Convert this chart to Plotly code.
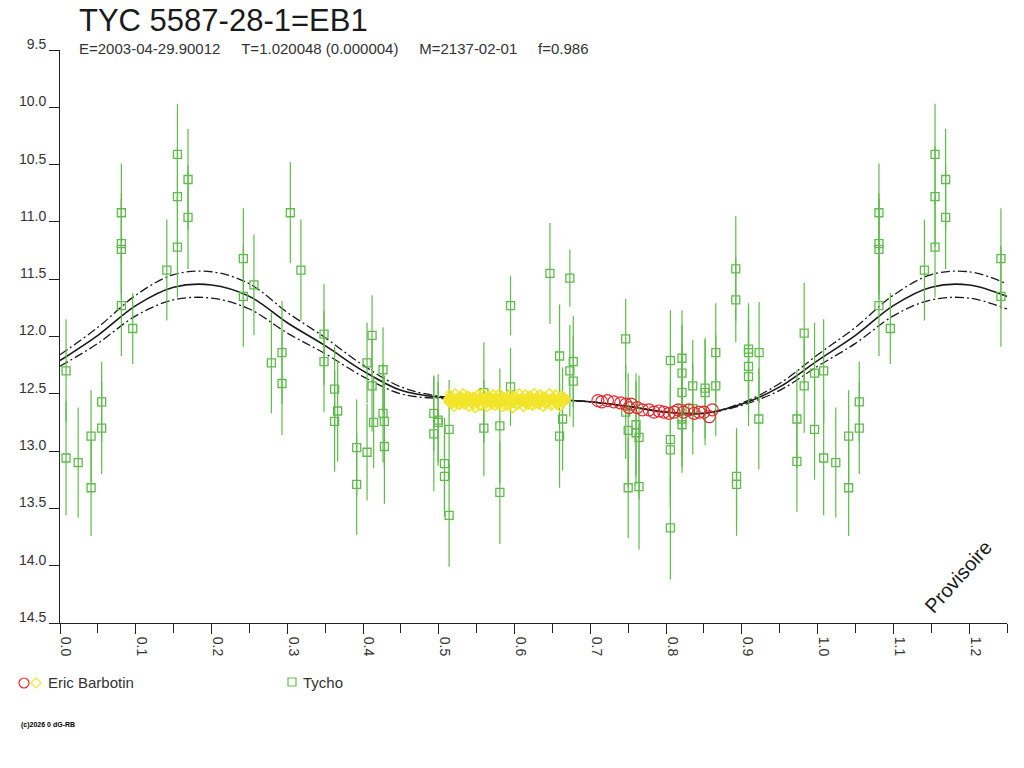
import plotly.graph_objects as go

# Tycho photometry (phase, magnitude, error)
tycho_phase = [0.008, 0.008, 0.024, 0.041, 0.041, 0.055, 0.055, 0.081, 0.081, 0.081, 0.081, 0.096,
               0.141, 0.155, 0.155, 0.155, 0.169, 0.169, 0.242, 0.242, 0.256, 0.279, 0.293, 0.293,
               0.304, 0.318, 0.3485, 0.3485, 0.3625, 0.3625, 0.3665, 0.3916, 0.3916, 0.4053, 0.4053,
               0.4119, 0.4119, 0.414, 0.4264, 0.4264, 0.4282, 0.4282, 0.4934, 0.4934, 0.4991, 0.4991,
               0.5075, 0.5075, 0.5136, 0.5136, 0.5595, 0.5595, 0.5806, 0.5806, 0.5947, 0.5947, 0.6467,
               0.673, 0.6594, 0.6594, 0.6634, 0.673, 0.6775, 0.6775, 0.7467, 0.7467, 0.750, 0.750,
               0.7603, 0.7603, 0.7643, 0.7643, 0.8057, 0.8057, 0.8057, 0.8057, 0.821, 0.821, 0.821,
               0.821, 0.821, 0.821, 0.8352, 0.8352, 0.8515, 0.8515, 0.8656, 0.8656, 0.892, 0.892,
               0.893, 0.893, 0.9088, 0.9088, 0.9088, 0.9088, 0.9228, 0.9224, 0.9727, 0.9727, 0.9823,
               0.9823, 0.996, 0.996]
tycho_mag = [12.30, 13.06, 13.10, 12.87, 13.32, 12.57, 12.80, 10.92, 11.19, 11.24, 11.73, 11.93,
             11.42, 10.41, 10.78, 11.22, 10.63, 10.96, 11.32, 11.65, 11.55, 12.23, 12.14, 12.41,
             10.92, 11.42, 11.98, 12.22, 12.46, 12.74, 12.65, 12.97, 13.29, 12.23, 13.01,
             11.99, 12.43, 12.75, 12.29, 12.67, 12.74, 12.96, 12.67, 12.85, 12.73, 12.75,
             13.11, 13.22, 12.81, 13.56, 12.49, 12.80, 12.78, 13.36, 11.73, 12.44, 11.45,
             11.49, 12.17, 12.87, 12.72, 12.30, 12.22, 12.39, 12.02, 12.66, 12.82, 13.32,
             12.77, 12.84, 12.88, 13.31, 12.21, 12.90, 12.99, 13.67, 12.19, 12.32, 12.49,
             12.63, 12.72, 12.77, 12.43, 12.63, 12.45, 12.49, 12.14, 12.43, 11.41, 11.68,
             13.22, 13.29, 12.11, 12.14, 12.26, 12.35, 12.14, 12.72, 12.72, 13.09, 11.97,
             12.43, 12.32, 12.81]
tycho_err = [0.45, 0.50, 0.48, 0.40, 0.42, 0.35, 0.40, 0.43, 0.44, 0.44, 0.44, 0.31,
             0.44, 0.44, 0.44, 0.44, 0.44, 0.45, 0.44, 0.44, 0.44, 0.44, 0.45, 0.45,
             0.44, 0.44, 0.44, 0.44, 0.37, 0.44, 0.44, 0.42, 0.44, 0.35, 0.42,
             0.35, 0.40, 0.40, 0.37, 0.43, 0.40, 0.50, 0.33, 0.50, 0.40, 0.35,
             0.40, 0.35, 0.43, 0.45, 0.44, 0.42, 0.50, 0.45, 0.26, 0.34, 0.44,
             0.25, 0.45, 0.45, 0.45, 0.40, 0.40, 0.40, 0.35, 0.41, 0.50, 0.44,
             0.45, 0.45, 0.54, 0.55, 0.44, 0.50, 0.50, 0.45, 0.42, 0.42, 0.42,
             0.42, 0.42, 0.42, 0.40, 0.40, 0.44, 0.46, 0.43, 0.44, 0.46, 0.37,
             0.42, 0.45, 0.40, 0.40, 0.40, 0.43, 0.44, 0.44, 0.43, 0.44, 0.44,
             0.41, 0.44, 0.44]

# Eric Barbotin, yellow diamonds (three readings per phase)
yellow_phase = [0.512, 0.514, 0.516, 0.518, 0.520, 0.522, 0.524, 0.526, 0.528, 0.530,
                0.532, 0.534, 0.536, 0.538, 0.540, 0.542, 0.544, 0.546, 0.548, 0.550,
                0.552, 0.554, 0.556, 0.558, 0.560, 0.562, 0.564, 0.566, 0.568, 0.570,
                0.572, 0.574, 0.576, 0.578, 0.580, 0.582, 0.584, 0.586, 0.588, 0.590,
                0.592, 0.594, 0.596, 0.598, 0.600, 0.602, 0.604, 0.606, 0.608, 0.610,
                0.612, 0.614, 0.616, 0.618, 0.620, 0.622, 0.624, 0.626, 0.628, 0.630,
                0.632, 0.634, 0.636, 0.638, 0.640, 0.642, 0.644, 0.646, 0.648, 0.650,
                0.652, 0.654, 0.656, 0.658, 0.660, 0.662, 0.664, 0.666, 0.668]
yellow_mag_a = [12.55, 12.50, 12.59, 12.53, 12.62, 12.49, 12.56, 12.60, 12.52, 12.58,
                12.49, 12.60, 12.55, 12.51, 12.62, 12.53, 12.58, 12.52, 12.63, 12.56,
                12.50, 12.61, 12.55, 12.49, 12.59, 12.53, 12.62, 12.51, 12.56, 12.58,
                12.50, 12.61, 12.55, 12.60, 12.49, 12.56, 12.62, 12.52, 12.58, 12.53,
                12.61, 12.50, 12.56, 12.63, 12.52, 12.60, 12.55, 12.49, 12.58, 12.53,
                12.62, 12.50, 12.56, 12.60, 12.51, 12.55, 12.61, 12.49, 12.58, 12.53,
                12.60, 12.50, 12.56, 12.62, 12.52, 12.58, 12.55, 12.49, 12.61, 12.53,
                12.56, 12.50, 12.60, 12.55, 12.62, 12.51, 12.58, 12.53, 12.56]
yellow_mag_b = [12.57, 12.54, 12.52, 12.59, 12.55, 12.58, 12.53, 12.56, 12.60, 12.52,
                12.56, 12.54, 12.59, 12.57, 12.52, 12.58, 12.55, 12.60, 12.53, 12.54,
                12.58, 12.55, 12.61, 12.53, 12.56, 12.59, 12.52, 12.57, 12.54, 12.60,
                12.55, 12.53, 12.58, 12.56, 12.59, 12.52, 12.54, 12.57, 12.61, 12.55,
                12.53, 12.57, 12.59, 12.54, 12.56, 12.52, 12.60, 12.55, 12.58, 12.53,
                12.56, 12.59, 12.54, 12.52, 12.58, 12.60, 12.53, 12.56, 12.55, 12.59,
                12.54, 12.57, 12.52, 12.55, 12.59, 12.53, 12.58, 12.56, 12.54, 12.60,
                12.53, 12.57, 12.55, 12.59, 12.52, 12.56, 12.58, 12.53, 12.55]
yellow_mag_c = [12.54, 12.57, 12.55, 12.53, 12.56, 12.55, 12.58, 12.54, 12.55, 12.56,
                12.54, 12.57, 12.53, 12.55, 12.56, 12.55, 12.53, 12.56, 12.55, 12.58,
                12.56, 12.53, 12.54, 12.57, 12.55, 12.56, 12.54, 12.55, 12.58, 12.53,
                12.57, 12.55, 12.54, 12.56, 12.55, 12.57, 12.56, 12.55, 12.54, 12.57,
                12.56, 12.55, 12.53, 12.57, 12.58, 12.55, 12.54, 12.56, 12.55, 12.57,
                12.54, 12.56, 12.58, 12.55, 12.56, 12.54, 12.55, 12.57, 12.53, 12.56,
                12.55, 12.57, 12.54, 12.56, 12.55, 12.58, 12.54, 12.55, 12.56, 12.53,
                12.57, 12.55, 12.56, 12.54, 12.57, 12.55, 12.55, 12.56, 12.54]

# Eric Barbotin, red circles
red_phase = [0.710, 0.715, 0.7225, 0.731, 0.740, 0.747, 0.751, 0.754, 0.762, 0.7687, 0.7775, 0.784,
             0.7907, 0.797, 0.804, 0.8105, 0.816, 0.823, 0.830, 0.837, 0.8435, 0.850, 0.857, 0.861]
red_mag = [12.56, 12.57, 12.56, 12.57, 12.58, 12.59, 12.62, 12.59, 12.62, 12.64, 12.64, 12.66,
           12.65, 12.66, 12.67, 12.66, 12.64, 12.66, 12.64, 12.67, 12.66, 12.66, 12.70, 12.64]

# fitted light curve with its envelope
curve_phase = [0.00, 0.05, 0.10, 0.15, 0.20, 0.25, 0.30, 0.35, 0.40, 0.45, 0.50,
               0.55, 0.60, 0.65, 0.70, 0.75, 0.80, 0.85, 0.90, 0.95, 1.00]
curve_mid = [12.21, 11.99, 11.73, 11.57, 11.55, 11.65, 11.88, 12.08, 12.30, 12.47, 12.53,
             12.54, 12.54, 12.55, 12.57, 12.61, 12.66, 12.67, 12.59, 12.44, 12.21]
curve_upper = [12.16, 11.92, 11.64, 11.46, 11.435, 11.54, 11.79, 12.01, 12.25, 12.44, 12.52,
               12.54, 12.54, 12.55, 12.57, 12.61, 12.66, 12.67, 12.58, 12.41, 12.16]
curve_lower = [12.26, 12.06, 11.82, 11.68, 11.665, 11.76, 11.97, 12.15, 12.35, 12.50, 12.54,
               12.54, 12.54, 12.55, 12.57, 12.61, 12.66, 12.67, 12.60, 12.47, 12.26]

GREEN = "#5fbb4c"
YELLOW = "#f2e52a"
RED = "#e6282e"
FONT = "Liberation Sans"


def extend(phase, *cols):
    # repeat the first quarter of the cycle after phase 1
    out_p = list(phase)
    outs = [list(c) for c in cols]
    for i, p in enumerate(phase):
        if 0 < p and p + 1 <= 1.25:
            out_p.append(p + 1)
            for o, c in zip(outs, cols):
                o.append(c[i])
    return [out_p] + outs


tp, tm, te = extend(tycho_phase, tycho_mag, tycho_err)
cp, cm, cu, cl = extend(curve_phase, curve_mid, curve_upper, curve_lower)

fig = go.Figure()

for ys, dash, w in [(cu, "9px,3px,2px,3px", 1.3), (cl, "9px,3px,2px,3px", 1.3), (cm, "solid", 1.6)]:
    fig.add_trace(go.Scatter(x=cp, y=ys, mode="lines", line=dict(color="#1a1a1a", width=w, dash=dash, shape="spline"),
                             hoverinfo="skip"))

fig.add_trace(go.Scatter(x=tp, y=tm, mode="markers",
                         error_y=dict(type="data", array=te, color=GREEN, thickness=1.2, width=0),
                         marker=dict(symbol="square-open", size=8, color=GREEN, line=dict(width=1.3, color=GREEN))))

fig.add_trace(go.Scatter(x=yellow_phase * 3, y=yellow_mag_a + yellow_mag_b + yellow_mag_c, mode="markers",
                         marker=dict(symbol="diamond-open", size=6, color=YELLOW, line=dict(width=1.5, color=YELLOW))))

fig.add_trace(go.Scatter(x=red_phase, y=red_mag, mode="markers",
                         marker=dict(symbol="circle-open", size=12, color=RED, line=dict(width=1.2, color=RED))))


def px(x):
    return (x - 60) / 947


def py(y):
    return (623 - y) / 573


gap = "\u00a0" * 5
annotations = [
    dict(x=px(77), y=py(20), text="TYC 5587-28-1=EB1", font=dict(size=31, color="#1a1a1a")),
    dict(x=px(77), y=py(48),
         text="E=2003-04-29.90012" + gap + "T=1.020048 (0.000004)" + gap + "M=2137-02-01" + gap + "f=0.986",
         font=dict(size=15, color="#333333")),
    dict(x=px(46), y=py(682), text="Eric Barbotin", font=dict(size=15, color="#333333")),
    dict(x=px(301), y=py(682), text="Tycho", font=dict(size=15, color="#333333")),
    dict(x=px(19), y=py(725), text="<b>(c)2026 0 dG-RB</b>", font=dict(size=7, color="#000000")),
    dict(x=px(958), y=py(577), text="Provisoire", textangle=-48, xanchor="center",
         font=dict(size=20, color="#1a1a1a")),
]
for a in annotations:
    a.update(xref="paper", yref="paper", showarrow=False, yanchor="middle")
    a.setdefault("xanchor", "left")

shapes = [
    dict(type="circle", xsizemode="pixel", ysizemode="pixel", xanchor=px(24), yanchor=py(683),
         x0=-5, x1=5, y0=-5, y1=5, line=dict(color=RED, width=1.2)),
    dict(type="path", xsizemode="pixel", ysizemode="pixel", xanchor=px(36), yanchor=py(683),
         path="M -5 0 L 0 5 L 5 0 L 0 -5 Z", line=dict(color=YELLOW, width=1.2)),
    dict(type="rect", xsizemode="pixel", ysizemode="pixel", xanchor=px(292), yanchor=py(682),
         x0=-4, x1=4, y0=-4, y1=4, line=dict(color=GREEN, width=1.2)),
]
for s in shapes:
    s.update(xref="paper", yref="paper")

fig.update_layout(
    width=1024, height=768,
    margin=dict(l=60, r=17, t=50, b=145),
    paper_bgcolor="white", plot_bgcolor="white",
    showlegend=False,
    font=dict(family=FONT, color="#333333"),
    annotations=annotations,
    shapes=shapes,
)
fig.update_xaxes(range=[0, 1.25], tick0=0, dtick=0.1, tickformat=".1f", tickangle=90,
                 ticks="outside", ticklen=10, tickcolor="#222", showline=True, linecolor="#222",
                 linewidth=1, showgrid=False, zeroline=False, tickfont=dict(size=14, color="#333"),
                 ticklabelshift=6, ticklabelstandoff=0,
                 minor=dict(dtick=0.05, ticks="outside", ticklen=9, tickcolor="#222", showgrid=False))
fig.update_yaxes(range=[14.5, 9.5], tick0=9.5, dtick=0.5, tickformat=".1f",
                 ticks="outside", ticklen=10, tickcolor="#222", showline=True, linecolor="#222",
                 linewidth=1, showgrid=False, zeroline=False, tickfont=dict(size=14, color="#333"),
                 ticklabelshift=6)

fig.write_html("out.html", config={"displayModeBar": False},
               post_script="document.body.style.margin='0';")
